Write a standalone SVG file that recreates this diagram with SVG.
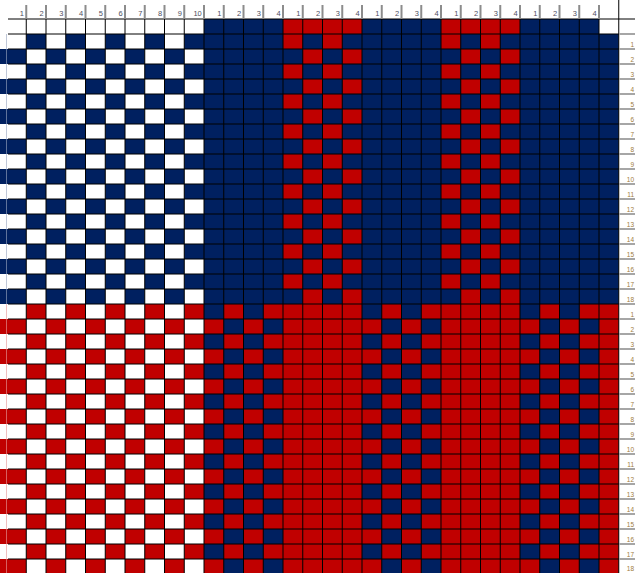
<svg xmlns="http://www.w3.org/2000/svg" width="635" height="573" viewBox="0 0 635 573">
<style>
.n{fill:#002060}
.r{fill:#C00000}
.grid{stroke:#000;stroke-width:1;fill:none}
.hsep{stroke:#8c8c8c;stroke-width:2;fill:none}
.lsep{stroke:#a6a6a6;stroke-width:2;fill:none}
.hd{font-family:"Liberation Sans",Arial,sans-serif;font-size:7.5px;fill:#4d4d5e;text-anchor:end}
.lb{font-family:"Liberation Sans",Arial,sans-serif;font-size:6.5px;fill:#a07c3c;text-anchor:end}
</style>
<defs>
<pattern id="pN" patternUnits="userSpaceOnUse" x="6.5" y="34" width="39.5" height="30"><rect x="19.75" y="0" width="19.75" height="15" fill="#002060"/><rect x="0" y="15" width="19.75" height="15" fill="#002060"/></pattern>
<pattern id="pR" patternUnits="userSpaceOnUse" x="6.5" y="304" width="39.5" height="30"><rect x="19.75" y="0" width="19.75" height="15" fill="#C00000"/><rect x="0" y="15" width="19.75" height="15" fill="#C00000"/></pattern>
<pattern id="sN" patternUnits="userSpaceOnUse" x="0" y="34" width="6.5" height="30"><rect x="0" y="15" width="6.5" height="15" fill="#002060"/></pattern>
<pattern id="sR" patternUnits="userSpaceOnUse" x="0" y="304" width="6.5" height="30"><rect x="0" y="15" width="6.5" height="15" fill="#C00000"/></pattern>
<pattern id="pRonN" patternUnits="userSpaceOnUse" x="283" y="34" width="39.5" height="30"><rect width="39.5" height="30" fill="#002060"/><rect x="0" y="0" width="19.75" height="15" fill="#C00000"/><rect x="19.75" y="15" width="19.75" height="15" fill="#C00000"/></pattern>
<pattern id="pNonR" patternUnits="userSpaceOnUse" x="204" y="304" width="39.5" height="30"><rect width="39.5" height="30" fill="#C00000"/><rect x="0" y="0" width="19.75" height="15" fill="#002060"/><rect x="19.75" y="15" width="19.75" height="15" fill="#002060"/></pattern>
</defs>
<rect width="635" height="573" fill="#fff"/>
<g id="left-checks">
<rect x="0" y="34" width="6.5" height="270" fill="url(#sN)"/>
<rect x="6.5" y="34" width="197.5" height="270" fill="url(#pN)"/>
<rect x="0" y="304" width="6.5" height="270" fill="url(#sR)"/>
<rect x="6.5" y="304" width="197.5" height="270" fill="url(#pR)"/>
</g>
<g id="right-blocks">
<rect class="n" x="204" y="19" width="79" height="15"/>
<rect class="r" x="283" y="19" width="79" height="15"/>
<rect class="n" x="362" y="19" width="79" height="15"/>
<rect class="r" x="441" y="19" width="79" height="15"/>
<rect class="n" x="520" y="19" width="79" height="15"/>
<rect class="n" x="204" y="34" width="414.75" height="270"/>
<rect x="283" y="34" width="79" height="270" fill="url(#pRonN)"/>
<rect x="441" y="34" width="79" height="270" fill="url(#pRonN)"/>
<rect class="r" x="204" y="304" width="414.75" height="270"/>
<rect x="204" y="304" width="79" height="270" fill="url(#pNonR)"/>
<rect x="362" y="304" width="79" height="270" fill="url(#pNonR)"/>
<rect x="520" y="304" width="79" height="270" fill="url(#pNonR)"/>
</g>
<g id="connectors">
<path class="grid" d="M8 19H635M8 34H618.75M8 49H618.75M8 64H618.75M8 79H618.75M8 94H618.75M8 109H618.75M8 124H618.75M8 139H618.75M8 154H618.75M8 169H618.75M8 184H618.75M8 199H618.75M8 214H618.75M8 229H618.75M8 244H618.75M8 259H618.75M8 274H618.75M8 289H618.75M8 304H618.75M8 319H618.75M8 334H618.75M8 349H618.75M8 364H618.75M8 379H618.75M8 394H618.75M8 409H618.75M8 424H618.75M8 439H618.75M8 454H618.75M8 469H618.75M8 484H618.75M8 499H618.75M8 514H618.75M8 529H618.75M8 544H618.75M8 559H618.75"/>
<path class="grid" d="M26.25 19V574M46 19V574M65.75 19V574M85.5 19V574M105.25 19V574M125 19V574M144.75 19V574M164.5 19V574M184.25 19V574M204 19V574M223.75 19V574M243.5 19V574M263.25 19V574M283 19V574M302.75 19V574M322.5 19V574M342.25 19V574M362 19V574M381.75 19V574M401.5 19V574M421.25 19V574M441 19V574M460.75 19V574M480.5 19V574M500.25 19V574M520 19V574M539.75 19V574M559.5 19V574M579.25 19V574M599 19V574M618.75 0V574"/>
<path class="hsep" d="M26.25 5V19M46 5V19M65.75 5V19M85.5 5V19M105.25 5V19M125 5V19M144.75 5V19M164.5 5V19M184.25 5V19M204 5V19M223.75 5V19M243.5 5V19M263.25 5V19M283 5V19M302.75 5V19M322.5 5V19M342.25 5V19M362 5V19M381.75 5V19M401.5 5V19M421.25 5V19M441 5V19M460.75 5V19M480.5 5V19M500.25 5V19M520 5V19M539.75 5V19M559.5 5V19M579.25 5V19M599 5V19"/>
<path class="lsep" d="M619 34H635M619 49H635M619 64H635M619 79H635M619 94H635M619 109H635M619 124H635M619 139H635M619 154H635M619 169H635M619 184H635M619 199H635M619 214H635M619 229H635M619 244H635M619 259H635M619 274H635M619 289H635M619 304H635M619 319H635M619 334H635M619 349H635M619 364H635M619 379H635M619 394H635M619 409H635M619 424H635M619 439H635M619 454H635M619 469H635M619 484H635M619 499H635M619 514H635M619 529H635M619 544H635M619 559H635"/>
</g>
<g id="column-headers">
<text class="hd" x="24" y="16">1</text><text class="hd" x="43.75" y="16">2</text><text class="hd" x="63.5" y="16">3</text><text class="hd" x="83.25" y="16">4</text><text class="hd" x="103" y="16">5</text><text class="hd" x="122.75" y="16">6</text><text class="hd" x="142.5" y="16">7</text><text class="hd" x="162.25" y="16">8</text><text class="hd" x="182" y="16">9</text><text class="hd" x="201.75" y="16">10</text>
<text class="hd" x="221.5" y="16">1</text><text class="hd" x="241.25" y="16">2</text><text class="hd" x="261" y="16">3</text><text class="hd" x="280.75" y="16">4</text>
<text class="hd" x="300.5" y="16">1</text><text class="hd" x="320.25" y="16">2</text><text class="hd" x="340" y="16">3</text><text class="hd" x="359.75" y="16">4</text>
<text class="hd" x="379.5" y="16">1</text><text class="hd" x="399.25" y="16">2</text><text class="hd" x="419" y="16">3</text><text class="hd" x="438.75" y="16">4</text>
<text class="hd" x="458.5" y="16">1</text><text class="hd" x="478.25" y="16">2</text><text class="hd" x="498" y="16">3</text><text class="hd" x="517.75" y="16">4</text>
<text class="hd" x="537.5" y="16">1</text><text class="hd" x="557.25" y="16">2</text><text class="hd" x="577" y="16">3</text><text class="hd" x="596.75" y="16">4</text>
</g>
<g id="row-labels">
<text class="lb" x="634" y="47">1</text><text class="lb" x="634" y="62">2</text><text class="lb" x="634" y="77">3</text><text class="lb" x="634" y="92">4</text><text class="lb" x="634" y="107">5</text><text class="lb" x="634" y="122">6</text><text class="lb" x="634" y="137">7</text><text class="lb" x="634" y="152">8</text><text class="lb" x="634" y="167">9</text><text class="lb" x="634" y="182">10</text><text class="lb" x="634" y="197">11</text><text class="lb" x="634" y="212">12</text><text class="lb" x="634" y="227">13</text><text class="lb" x="634" y="242">14</text><text class="lb" x="634" y="257">15</text><text class="lb" x="634" y="272">16</text><text class="lb" x="634" y="287">17</text><text class="lb" x="634" y="302">18</text>
<text class="lb" x="634" y="317">1</text><text class="lb" x="634" y="332">2</text><text class="lb" x="634" y="347">3</text><text class="lb" x="634" y="362">4</text><text class="lb" x="634" y="377">5</text><text class="lb" x="634" y="392">6</text><text class="lb" x="634" y="407">7</text><text class="lb" x="634" y="422">8</text><text class="lb" x="634" y="437">9</text><text class="lb" x="634" y="452">10</text><text class="lb" x="634" y="467">11</text><text class="lb" x="634" y="482">12</text><text class="lb" x="634" y="497">13</text><text class="lb" x="634" y="512">14</text><text class="lb" x="634" y="527">15</text><text class="lb" x="634" y="542">16</text><text class="lb" x="634" y="557">17</text><text class="lb" x="634" y="571">18</text>
</g>
</svg>
